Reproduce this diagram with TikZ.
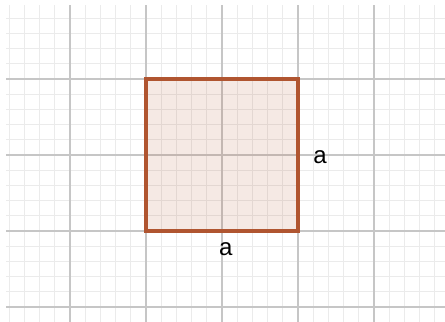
\documentclass[tikz,border=0pt]{standalone}
\usepackage{fontspec}
\setmainfont{Liberation Sans}
\usetikzlibrary{positioning}
\definecolor{sqedge}{HTML}{B05530}
\definecolor{minorgrid}{HTML}{EBEBEB}
\definecolor{majorgrid}{HTML}{C6C6C6}

\begin{document}
\begin{tikzpicture}[x=1cm,y=1cm,
	minor/.style={draw=minorgrid,line width=0.5pt},
	major/.style={draw=majorgrid,line width=0.6pt},
	side/.style={draw=sqedge,line width=1.4pt},
	lbl/.style={font=\fontsize{9}{11}\selectfont,inner sep=0pt}]
	\useasboundingbox (-1.921,-1.197) rectangle (3.934,3.039);
	\draw[minor,step=0.2] (-1.842,-1.197) grid (3.934,2.974);
	\draw[major,step=1] (-1.842,-1.197) grid (3.934,2.974);
	\fill[sqedge,fill opacity=0.13] (0,0) rectangle (2,2);
	\draw[side] (0,0) coordinate (sw) rectangle (2,2) coordinate (ne);
	\node[lbl] (ra) at (2.29,0.975) {a};
	\node[lbl] (ba) at (1.05,-0.245) {a};
\end{tikzpicture}
\end{document}
